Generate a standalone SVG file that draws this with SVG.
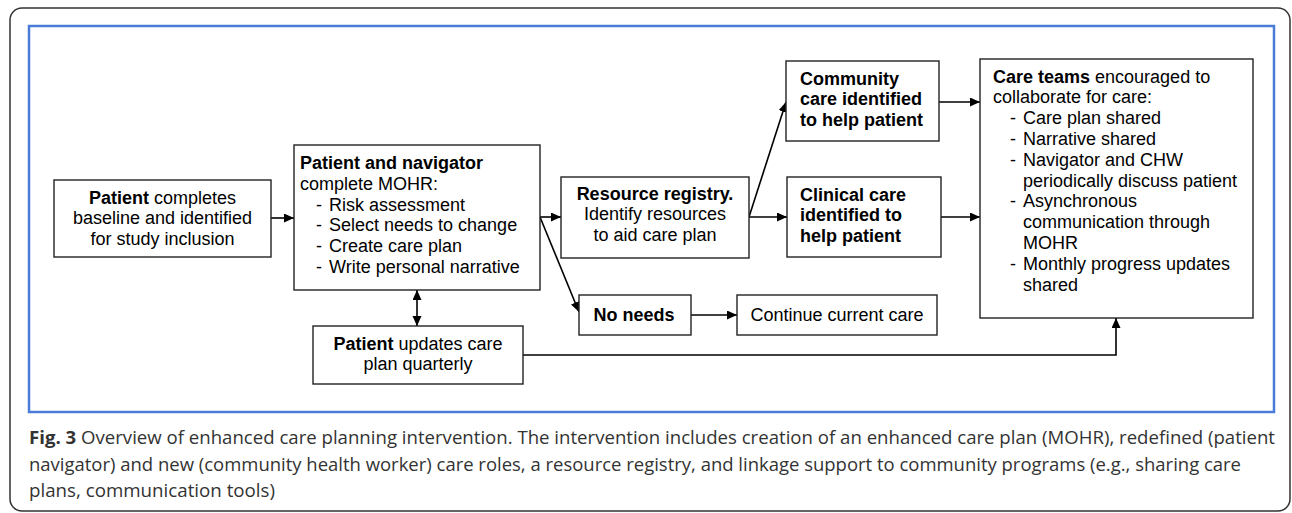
<svg xmlns="http://www.w3.org/2000/svg" width="1292" height="513" viewBox="0 0 1292 513">
  <style>
    .box { fill: #ffffff; stroke: #222222; stroke-width: 1.4; }
    .t { font-family: "Liberation Sans", Arial, sans-serif; font-size: 18px; fill: #000000; }
    .b { font-weight: bold; }
    .c { text-anchor: middle; }
    .link { fill: none; stroke: #000000; stroke-width: 1.6; }
    .cap { font-family: "Open Sans", "Noto Sans", sans-serif; font-size: 18px; fill: #333333; }
  </style>
  <defs>
    <marker id="arrow" markerUnits="userSpaceOnUse" markerWidth="12" markerHeight="10" refX="10" refY="4.5" orient="auto-start-reverse" viewBox="0 0 12 10">
      <path d="M0,0 L10,4.5 L0,9 Z" fill="#000000"/>
    </marker>
  </defs>

  <rect id="frame" x="10" y="8" width="1280" height="503" rx="12" ry="12" fill="#ffffff" stroke="#333333" stroke-width="1.5"/>
  <rect id="panel" x="29" y="26" width="1245" height="386" fill="none" stroke="#4a7bd6" stroke-width="2.5"/>

  <g id="connectors">
    <line class="link" x1="271" y1="218" x2="294" y2="218" marker-end="url(#arrow)"/>
    <line class="link" x1="540" y1="217" x2="561" y2="217" marker-end="url(#arrow)"/>
    <line class="link" x1="540" y1="217" x2="579" y2="312" marker-end="url(#arrow)"/>
    <line class="link" x1="749" y1="217" x2="787" y2="217" marker-end="url(#arrow)"/>
    <line class="link" x1="749" y1="217" x2="786" y2="102" marker-end="url(#arrow)"/>
    <line class="link" x1="939" y1="102" x2="980" y2="102" marker-end="url(#arrow)"/>
    <line class="link" x1="941" y1="217" x2="980" y2="217" marker-end="url(#arrow)"/>
    <line class="link" x1="691" y1="315" x2="737" y2="315" marker-end="url(#arrow)"/>
    <line class="link" x1="417" y1="290" x2="417" y2="326" marker-start="url(#arrow)" marker-end="url(#arrow)"/>
    <polyline class="link" points="523,355 1116,355 1116,318" marker-end="url(#arrow)"/>
  </g>

  <g id="patient-baseline">
    <rect class="box" x="54" y="180" width="217" height="77"/>
    <text class="t c" x="162.5" y="203.5"><tspan class="b">Patient</tspan> completes</text>
    <text class="t c" x="162.5" y="224.2">baseline and identified</text>
    <text class="t c" x="162.5" y="244.9">for study inclusion</text>
  </g>

  <g id="patient-navigator">
    <rect class="box" x="294" y="145" width="246" height="145"/>
    <text class="t b" x="300" y="169">Patient and navigator</text>
    <text class="t" x="300" y="189.8">complete MOHR:</text>
    <text class="t" x="316" y="210.5">-</text><text class="t" x="329" y="210.5">Risk assessment</text>
    <text class="t" x="316" y="231.3">-</text><text class="t" x="329" y="231.3">Select needs to change</text>
    <text class="t" x="316" y="252">-</text><text class="t" x="329" y="252">Create care plan</text>
    <text class="t" x="316" y="272.8">-</text><text class="t" x="329" y="272.8">Write personal narrative</text>
  </g>

  <g id="patient-updates">
    <rect class="box" x="313" y="326" width="210" height="58"/>
    <text class="t c" x="418" y="349.5"><tspan class="b">Patient</tspan> updates care</text>
    <text class="t c" x="418" y="370.2">plan quarterly</text>
  </g>

  <g id="resource-registry">
    <rect class="box" x="561" y="177" width="188" height="81"/>
    <text class="t c b" x="655" y="199.5">Resource registry.</text>
    <text class="t c" x="655" y="220.2">Identify resources</text>
    <text class="t c" x="655" y="240.9">to aid care plan</text>
  </g>

  <g id="no-needs">
    <rect class="box" x="579" y="295" width="112" height="40"/>
    <text class="t c b" x="634" y="321">No needs</text>
  </g>

  <g id="continue-care">
    <rect class="box" x="737" y="295" width="200" height="40"/>
    <text class="t c" x="837" y="321">Continue current care</text>
  </g>

  <g id="community-care">
    <rect class="box" x="786" y="61" width="153" height="80"/>
    <text class="t b" x="800" y="84.5">Community</text>
    <text class="t b" x="800" y="105.2">care identified</text>
    <text class="t b" x="800" y="125.9">to help patient</text>
  </g>

  <g id="clinical-care">
    <rect class="box" x="787" y="177" width="154" height="80"/>
    <text class="t b" x="800" y="200.5">Clinical care</text>
    <text class="t b" x="800" y="221.2">identified to</text>
    <text class="t b" x="800" y="241.9">help patient</text>
  </g>

  <g id="care-teams">
    <rect class="box" x="980" y="59" width="273" height="259"/>
    <text class="t" x="993" y="82.5"><tspan class="b">Care teams</tspan> encouraged to</text>
    <text class="t" x="993" y="103.3">collaborate for care:</text>
    <text class="t" x="1010" y="124.1">-</text><text class="t" x="1023" y="124.1">Care plan shared</text>
    <text class="t" x="1010" y="144.9">-</text><text class="t" x="1023" y="144.9">Narrative shared</text>
    <text class="t" x="1010" y="165.7">-</text><text class="t" x="1023" y="165.7">Navigator and CHW</text>
    <text class="t" x="1023" y="186.5">periodically discuss patient</text>
    <text class="t" x="1010" y="207.3">-</text><text class="t" x="1023" y="207.3">Asynchronous</text>
    <text class="t" x="1023" y="228.1">communication through</text>
    <text class="t" x="1023" y="248.9">MOHR</text>
    <text class="t" x="1010" y="269.7">-</text><text class="t" x="1023" y="269.7">Monthly progress updates</text>
    <text class="t" x="1023" y="290.5">shared</text>
  </g>

  <g id="caption">
    <text class="cap" x="29" y="444" textLength="1246" lengthAdjust="spacingAndGlyphs"><tspan font-weight="bold">Fig. 3</tspan> Overview of enhanced care planning intervention. The intervention includes creation of an enhanced care plan (MOHR), redefined (patient</text>
    <text class="cap" x="29" y="470.5" textLength="1212" lengthAdjust="spacingAndGlyphs">navigator) and new (community health worker) care roles, a resource registry, and linkage support to community programs (e.g., sharing care</text>
    <text class="cap" x="29" y="497" textLength="246" lengthAdjust="spacingAndGlyphs">plans, communication tools)</text>
  </g>
</svg>
